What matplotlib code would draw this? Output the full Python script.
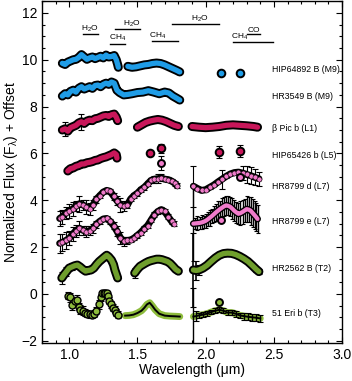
import matplotlib
matplotlib.use("Agg")
import matplotlib.pyplot as plt

plt.rcParams["font.family"] = ["Liberation Sans", "DejaVu Sans"]
plt.rcParams["mathtext.default"] = "regular"

# colours
BLUE = "#1f9ce6"
RED = "#c8175a"
PINK = "#f07ccb"
GREEN = "#6f9e2c"
LGREEN = "#8dbb3c"

# ---------------- data ----------------
hip64892_j_wl = [0.95, 0.97, 0.99, 1.01, 1.03, 1.05, 1.07, 1.09, 1.11, 1.13, 1.15, 1.17,
                 1.19, 1.21, 1.23, 1.25, 1.27, 1.29, 1.31, 1.33, 1.345, 1.355, 1.36]
hip64892_j_fl = [9.85, 9.80, 9.90, 9.95, 10.00, 10.02, 10.10, 10.22, 10.12, 10.02, 10.08, 10.12,
                 10.05, 10.10, 10.15, 10.08, 10.20, 10.12, 10.14, 10.18, 10.00, 9.80, 9.68]
hip64892_h_wl = [1.43, 1.46, 1.49, 1.52, 1.55, 1.58, 1.61, 1.64, 1.67, 1.70, 1.73, 1.76, 1.79, 1.81]
hip64892_h_fl = [9.72, 9.68, 9.70, 9.74, 9.78, 9.80, 9.84, 9.86, 9.84, 9.78, 9.70, 9.62, 9.54, 9.48]
hip64892_k_wl = [2.11, 2.25]
hip64892_k_fl = [9.45, 9.45]

hr3549_wl = [0.95, 0.97, 0.99, 1.01, 1.03, 1.05, 1.07, 1.09, 1.11, 1.13, 1.15, 1.17, 1.19,
             1.21, 1.23, 1.25, 1.27, 1.29, 1.31, 1.33, 1.35, 1.37, 1.40, 1.43, 1.46, 1.50,
             1.54, 1.58, 1.62, 1.66, 1.70, 1.73, 1.76, 1.79, 1.81]
hr3549_fl = [8.45, 8.55, 8.50, 8.65, 8.70, 8.62, 8.78, 8.85, 8.75, 8.80, 8.85, 8.78, 8.90,
             8.92, 8.85, 8.95, 9.00, 8.95, 9.05, 9.00, 8.70, 8.60, 8.50, 8.52, 8.55, 8.60,
             8.62, 8.68, 8.62, 8.55, 8.62, 8.58, 8.45, 8.35, 8.28]

bpic_j_wl = [0.95, 0.97, 0.99, 1.01, 1.03, 1.05, 1.07, 1.09, 1.11, 1.13, 1.15, 1.17,
             1.19, 1.21, 1.23, 1.25, 1.27, 1.29, 1.31, 1.33, 1.345, 1.355]
bpic_j_fl = [7.00, 7.05, 6.95, 7.10, 7.15, 7.20, 7.30, 7.35, 7.28, 7.38, 7.42, 7.40,
             7.48, 7.50, 7.55, 7.60, 7.62, 7.58, 7.65, 7.68, 7.55, 7.40]
bpic_j_err = [0.0, 0.3, 0.0, 0.0, 0.0, 0.0, 0.0, 0.35, 0.0, 0.0, 0.0, 0.0,
              0.0, 0.0, 0.0, 0.0, 0.0, 0.0, 0.0, 0.0, 0.0, 0.0]
bpic_h_wl = [1.50, 1.53, 1.56, 1.59, 1.62, 1.65, 1.68, 1.71, 1.74, 1.77, 1.80]
bpic_h_fl = [7.12, 7.22, 7.32, 7.38, 7.42, 7.45, 7.42, 7.36, 7.28, 7.20, 7.15]
bpic_k_wl = [1.90, 1.95, 2.00, 2.05, 2.10, 2.15, 2.20, 2.25, 2.30, 2.35, 2.38]
bpic_k_fl = [7.15, 7.12, 7.10, 7.12, 7.15, 7.20, 7.22, 7.20, 7.18, 7.15, 7.12]

hip65426_j_wl = [0.99, 1.01, 1.03, 1.05, 1.07, 1.09, 1.11, 1.13, 1.15, 1.17, 1.19, 1.21,
                 1.23, 1.25, 1.27, 1.29, 1.31, 1.33, 1.345, 1.35]
hip65426_j_fl = [5.25, 5.35, 5.38, 5.45, 5.48, 5.55, 5.55, 5.60, 5.62, 5.65, 5.70, 5.72,
                 5.78, 5.82, 5.85, 5.90, 5.95, 6.02, 5.95, 5.80]
hip65426_phot_wl = [1.59, 1.67, 2.10, 2.25]
hip65426_phot_fl = [6.00, 6.22, 6.05, 6.10]
hip65426_phot_err = [0.0, 0.2, 0.25, 0.25]

hr8799d_jh_wl = [0.93, 0.95, 0.975, 1.0, 1.025, 1.05, 1.075, 1.10, 1.125, 1.15, 1.175, 1.20,
                 1.225, 1.25, 1.275, 1.30, 1.325, 1.35, 1.375, 1.40, 1.425, 1.45, 1.475, 1.50,
                 1.525, 1.55, 1.575, 1.60, 1.625, 1.65, 1.675, 1.70, 1.725, 1.75, 1.775, 1.79]
hr8799d_jh_fl = [3.22, 3.30, 3.45, 3.55, 3.62, 3.75, 3.85, 3.80, 3.72, 3.64, 3.80, 4.05,
                 4.20, 4.35, 4.42, 4.38, 4.18, 3.98, 3.80, 3.75, 3.78, 4.05, 4.20, 4.30,
                 4.45, 4.55, 4.70, 4.85, 4.90, 4.92, 4.95, 4.90, 4.88, 4.82, 4.72, 4.62]
hr8799d_jh_err = [0.3, 0.3, 0.25, 0.3, 0.3, 0.2, 0.35, 0.2, 0.3, 0.25, 0.2, 0.15,
                  0.1, 0.1, 0.1, 0.1, 0.15, 0.2, 0.3, 0.2, 0.1, 0.1, 0.1, 0.1,
                  0.1, 0.1, 0.1, 0.1, 0.15, 0.2, 0.15, 0.1, 0.1, 0.1, 0.1, 0.1]
hr8799d_k_wl = [1.91, 1.94, 1.97, 2.00, 2.03, 2.06, 2.09, 2.12, 2.15, 2.18, 2.21, 2.24,
                2.27, 2.30, 2.33, 2.36, 2.39]
hr8799d_k_fl = [4.60, 4.50, 4.42, 4.45, 4.55, 4.65, 4.78, 4.90, 5.02, 5.12, 5.18, 5.20,
                5.16, 5.10, 5.05, 4.98, 4.92]
hr8799d_k_err = [0.87, 0.05, 0.05, 0.05, 0.05, 0.05, 0.05, 0.4, 0.05, 0.05, 0.05, 0.05,
                 0.3, 0.35, 0.35, 0.35, 0.3]
hr8799d_phot_wl = [1.67, 2.25]
hr8799d_phot_fl = [5.60, 4.99]
hr8799d_phot_err = [0.3, 0.1]

hr8799e_jh_wl = [0.93, 0.95, 0.975, 1.0, 1.025, 1.05, 1.075, 1.10, 1.125, 1.15, 1.175, 1.20,
                 1.225, 1.25, 1.275, 1.30, 1.325, 1.35, 1.375, 1.40, 1.425, 1.45, 1.475, 1.50,
                 1.525, 1.55, 1.575, 1.60, 1.625, 1.65, 1.675, 1.70, 1.725, 1.75, 1.765]
hr8799e_jh_fl = [2.16, 2.20, 2.28, 2.37, 2.55, 2.70, 2.80, 2.72, 2.66, 2.70, 2.80, 2.98,
                 3.10, 3.20, 3.22, 3.10, 2.92, 2.68, 2.40, 2.25, 2.28, 2.30, 2.38, 2.50,
                 2.62, 2.78, 2.92, 3.15, 3.38, 3.52, 3.60, 3.52, 3.30, 3.10, 3.00]
hr8799e_jh_err = [0.4, 0.35, 0.35, 0.3, 0.3, 0.25, 0.3, 0.2, 0.25, 0.2, 0.2, 0.15,
                  0.1, 0.1, 0.1, 0.1, 0.15, 0.2, 0.25, 0.2, 0.15, 0.1, 0.1, 0.1,
                  0.1, 0.1, 0.1, 0.1, 0.1, 0.1, 0.1, 0.1, 0.1, 0.1, 0.1]
hr8799e_k_wl = [1.91, 1.925, 1.94, 1.955, 1.97, 1.985, 2.00, 2.015, 2.03, 2.045, 2.06, 2.075,
                2.09, 2.105, 2.12, 2.135, 2.15, 2.165, 2.18, 2.195, 2.21, 2.225, 2.24, 2.255,
                2.27, 2.285, 2.30, 2.315, 2.33, 2.345, 2.36, 2.37, 2.38]
hr8799e_k_fl = [3.00, 3.01, 3.02, 3.03, 3.05, 3.08, 3.12, 3.18, 3.25, 3.32, 3.40, 3.48,
                3.55, 3.62, 3.68, 3.74, 3.78, 3.76, 3.72, 3.64, 3.55, 3.48, 3.42, 3.45,
                3.50, 3.56, 3.62, 3.60, 3.55, 3.45, 3.35, 3.28, 3.20]
hr8799e_k_err = [1.6, 0.25, 0.3, 0.25, 0.3, 0.25, 0.3, 0.3, 0.35, 0.3, 0.35, 0.35,
                 0.4, 0.35, 0.4, 0.4, 0.4, 0.4, 0.4, 0.45, 0.45, 0.45, 0.45, 0.5,
                 0.5, 0.5, 0.55, 0.55, 0.6, 0.6, 0.6, 0.6, 0.6]
hr8799e_phot_wl = [2.11]
hr8799e_phot_fl = [3.14]

hr2562_j_wl = [0.946, 0.96, 0.98, 1.00, 1.02, 1.04, 1.06, 1.08, 1.10, 1.12, 1.14, 1.16,
               1.18, 1.20, 1.22, 1.24, 1.26, 1.275, 1.29, 1.31, 1.325, 1.335, 1.345, 1.355]
hr2562_j_fl = [0.68, 0.80, 0.95, 1.10, 1.15, 1.20, 1.23, 1.15, 1.05, 0.97, 1.00, 1.02,
               1.10, 1.25, 1.38, 1.48, 1.58, 1.65, 1.58, 1.44, 1.25, 1.02, 0.85, 0.68]
hr2562_j_err = [0.25, 0.0, 0.2, 0.0, 0.15, 0.0, 0.0, 0.0, 0.0, 0.12, 0.0, 0.0,
                0.0, 0.0, 0.0, 0.0, 0.0, 0.0, 0.0, 0.0, 0.0, 0.0, 0.0, 0.0]
hr2562_h_wl = [1.48, 1.50, 1.52, 1.54, 1.56, 1.58, 1.60, 1.62, 1.64, 1.66, 1.68, 1.70,
               1.72, 1.74, 1.76, 1.78, 1.80]
hr2562_h_fl = [0.89, 1.05, 1.18, 1.25, 1.32, 1.38, 1.42, 1.45, 1.48, 1.48, 1.46, 1.42,
               1.38, 1.30, 1.18, 1.05, 0.97]
hr2562_h_err = [0.2, 0.0, 0.0, 0.0, 0.0, 0.0, 0.0, 0.0, 0.0, 0.0, 0.0, 0.0,
                0.0, 0.0, 0.0, 0.0, 0.0]
hr2562_k_wl = [1.91, 1.93, 1.95, 1.98, 2.01, 2.04, 2.07, 2.10, 2.13, 2.16, 2.19, 2.22,
               2.25, 2.28, 2.31, 2.34, 2.37, 2.39]
hr2562_k_fl = [1.02, 1.00, 1.02, 1.10, 1.22, 1.38, 1.53, 1.65, 1.72, 1.74, 1.73, 1.68,
               1.60, 1.50, 1.38, 1.22, 1.05, 0.95]
hr2562_k_err = [1.6, 0.4, 0.2, 0.0, 0.0, 0.0, 0.0, 0.0, 0.0, 0.0, 0.0, 0.0,
                0.0, 0.0, 0.0, 0.08, 0.1, 0.1]

eri51_j_wl = [0.99, 1.005, 1.02, 1.04, 1.055, 1.07, 1.08, 1.10, 1.115, 1.13, 1.15, 1.165,
              1.18, 1.20, 1.215, 1.23, 1.24, 1.255, 1.265, 1.275, 1.285, 1.295, 1.305,
              1.32, 1.335, 1.345, 1.355]
eri51_j_fl = [-0.08, -0.15, -0.47, -0.30, -0.25, -0.55, -0.68, -0.72, -0.80, -0.85, -0.88,
              -0.89, -0.85, -0.72, -0.45, -0.15, 0.04, 0.05, 0.02, 0.04, -0.10, -0.30,
              -0.45, -0.60, -0.68, -0.80, -0.89]
eri51_j_err = [0.15, 0.2, 0.2, 0.15, 0.2, 0.15, 0.2, 0.2, 0.15, 0.15, 0.15, 0.15,
               0.15, 0.15, 0.2, 0.15, 0.1, 0.1, 0.1, 0.1, 0.1, 0.15, 0.15,
               0.15, 0.15, 0.15, 0.15]
eri51_h_wl = [1.41, 1.44, 1.47, 1.50, 1.53, 1.55, 1.57, 1.59, 1.61, 1.63, 1.66, 1.70,
              1.74, 1.78, 1.81]
eri51_h_fl = [-0.93, -0.92, -0.89, -0.82, -0.72, -0.60, -0.45, -0.38, -0.52, -0.68, -0.85,
              -0.93, -0.95, -0.96, -0.97]
eri51_k_wl = [1.91, 1.93, 1.95, 1.98, 2.01, 2.04, 2.07, 2.10, 2.13, 2.16, 2.19, 2.22,
              2.25, 2.28, 2.31, 2.34, 2.37, 2.40]
eri51_k_fl = [-0.97, -0.95, -0.92, -0.89, -0.85, -0.78, -0.72, -0.68, -0.72, -0.80, -0.80,
              -0.85, -0.92, -0.95, -0.98, -1.00, -1.02, -1.05]
eri51_k_err = [1.2, 0.2, 0.1, 0.1, 0.1, 0.1, 0.1, 0.1, 0.1, 0.1, 0.1, 0.12,
               0.12, 0.15, 0.15, 0.15, 0.15, 0.15]
eri51_phot_wl = [2.10]
eri51_phot_fl = [-0.34]

object_names = ["HIP64892 B (M9)", "HR3549 B (M9)", "\u03b2 Pic b (L1)", "HIP65426 b (L5)",
                "HR8799 d (L7)", "HR8799 e (L7)", "HR2562 B (T2)", "51 Eri b (T3)"]
object_label_y = [9.58, 8.43, 7.08, 5.93, 4.58, 3.09, 1.10, -0.85]

band_labels = [r"H$_2$O", r"CH$_4$", r"H$_2$O", r"CH$_4$", r"H$_2$O", "CO", r"CH$_4$"]
band_x0 = [1.10, 1.30, 1.335, 1.605, 1.75, 2.30, 2.20]
band_x1 = [1.21, 1.41, 1.52, 1.80, 2.10, 2.40, 2.49]
band_y = [11.10, 10.68, 11.31, 10.80, 11.52, 11.10, 10.76]
band_text_x = [1.155, 1.355, 1.46, 1.65, 1.96, 2.35, 2.25]


# ---------------- plotting ----------------
fig = plt.figure(figsize=(3.52, 3.81), dpi=100)
ax = fig.add_axes([0.119, 0.0997, 0.853, 0.897])


def band(wl, fl, color, outer=6.5, inner=3.8):
    ax.plot(wl, fl, color="k", lw=outer, solid_capstyle="round", solid_joinstyle="round", zorder=2)
    ax.plot(wl, fl, color=color, lw=inner, solid_capstyle="round", solid_joinstyle="round", zorder=3)


def dotted(wl, fl, err, color, ms=3.6):
    ax.errorbar(wl, fl, yerr=err, fmt="none", ecolor="k", elinewidth=0.8, capsize=2.0,
                capthick=0.8, zorder=2)
    ax.plot(wl, fl, color="k", lw=5.0, solid_capstyle="round", zorder=2)
    ax.plot(wl, fl, "o", color=color, ms=ms, mec="k", mew=0.4, zorder=3)


def phot(wl, fl, color, err=None, ms=5.5):
    if err is not None:
        ax.errorbar(wl, fl, yerr=err, fmt="none", ecolor="k", elinewidth=0.8, capsize=2.0,
                    capthick=0.8, zorder=2)
    ax.plot(wl, fl, "o", color=color, ms=ms, mec="k", mew=1.4, zorder=4)


# HIP64892 B
band(hip64892_j_wl, hip64892_j_fl, BLUE)
band(hip64892_h_wl, hip64892_h_fl, BLUE)
phot(hip64892_k_wl, hip64892_k_fl, BLUE)

# HR3549 B
band(hr3549_wl, hr3549_fl, BLUE)

# beta Pic b
ax.errorbar(bpic_j_wl, bpic_j_fl, yerr=bpic_j_err, fmt="none", ecolor="k", elinewidth=0.8,
            capsize=2.0, capthick=0.8, zorder=2)
band(bpic_j_wl, bpic_j_fl, RED)
band(bpic_h_wl, bpic_h_fl, RED)
band(bpic_k_wl, bpic_k_fl, RED)

# HIP65426 b
band(hip65426_j_wl, hip65426_j_fl, RED)
phot(hip65426_phot_wl, hip65426_phot_fl, RED, hip65426_phot_err)

# HR8799 d
dotted(hr8799d_jh_wl, hr8799d_jh_fl, hr8799d_jh_err, PINK)
dotted(hr8799d_k_wl, hr8799d_k_fl, hr8799d_k_err, PINK)
phot(hr8799d_phot_wl, hr8799d_phot_fl, PINK, hr8799d_phot_err, ms=5)

# HR8799 e
dotted(hr8799e_jh_wl, hr8799e_jh_fl, hr8799e_jh_err, PINK)
ax.errorbar(hr8799e_k_wl, hr8799e_k_fl, yerr=hr8799e_k_err, fmt="none", ecolor="k",
            elinewidth=1.0, capsize=1.5, capthick=0.8, zorder=2)
band(hr8799e_k_wl, hr8799e_k_fl, PINK, outer=5.0, inner=3.0)
phot(hr8799e_phot_wl, hr8799e_phot_fl, PINK, ms=5)

# HR2562 B
ax.errorbar(hr2562_j_wl, hr2562_j_fl, yerr=hr2562_j_err, fmt="none", ecolor="k",
            elinewidth=0.8, capsize=2.0, capthick=0.8, zorder=2)
ax.errorbar(hr2562_h_wl, hr2562_h_fl, yerr=hr2562_h_err, fmt="none", ecolor="k",
            elinewidth=0.8, capsize=2.0, capthick=0.8, zorder=2)
ax.errorbar(hr2562_k_wl, hr2562_k_fl, yerr=hr2562_k_err, fmt="none", ecolor="k",
            elinewidth=1.2, capsize=2.0, capthick=0.8, zorder=2)
band(hr2562_j_wl, hr2562_j_fl, GREEN)
band(hr2562_h_wl, hr2562_h_fl, GREEN)
band(hr2562_k_wl, hr2562_k_fl, GREEN)

# 51 Eri b
ax.errorbar(eri51_j_wl, eri51_j_fl, yerr=eri51_j_err, fmt="none", ecolor="k",
            elinewidth=0.8, capsize=2.0, capthick=0.8, zorder=2)
ax.plot(eri51_j_wl, eri51_j_fl, "o", color=LGREEN, ms=5, mec="k", mew=1.0, zorder=3)
ax.plot(eri51_h_wl, eri51_h_fl, color=LGREEN, lw=5, solid_capstyle="round", zorder=2)
ax.plot(eri51_h_wl, eri51_h_fl, color="k", lw=1.4, zorder=3)
ax.errorbar(eri51_k_wl, eri51_k_fl, yerr=eri51_k_err, fmt="none", ecolor="k",
            elinewidth=1.0, capsize=2.0, capthick=0.8, zorder=3)
ax.plot(eri51_k_wl, eri51_k_fl, color=LGREEN, lw=5, solid_capstyle="round", zorder=2)
ax.plot(eri51_k_wl, eri51_k_fl, color="k", lw=1.4, zorder=3)
phot(eri51_phot_wl, eri51_phot_fl, LGREEN, ms=5)

# object labels
for name, yy in zip(object_names, object_label_y):
    ax.text(2.485, yy, name, fontsize=6.3, va="center", ha="left")

# molecular bands
for lab, x0, x1, yy, tx in zip(band_labels, band_x0, band_x1, band_y, band_text_x):
    ax.plot([x0, x1], [yy, yy], color="k", lw=1.0)
    ax.text(tx, yy + 0.02, lab, fontsize=6, ha="center", va="bottom")

ax.set_xlim(0.8, 3.0)
ax.set_ylim(-2.1, 12.5)
ax.set_xticks([1.0, 1.5, 2.0, 2.5, 3.0])
ax.set_yticks([-2, 0, 2, 4, 6, 8, 10, 12])
ax.minorticks_on()
ax.set_xticks([0.8 + 0.1 * i for i in range(23)], minor=True)
ax.set_yticks([-2 + 0.5 * i for i in range(30)], minor=True)
ax.tick_params(which="both", direction="in", top=True, right=True, width=0.8)
ax.tick_params(which="major", length=4, labelsize=10)
ax.tick_params(which="minor", length=2)
for sp in ax.spines.values():
    sp.set_linewidth(1.0)

ax.set_xlabel("Wavelength (\u03bcm)", fontsize=10, labelpad=1)
ax.set_ylabel(r"Normalized Flux (F$_\lambda$) + Offset", fontsize=10, labelpad=1)

fig.savefig("out.png", dpi=100)
